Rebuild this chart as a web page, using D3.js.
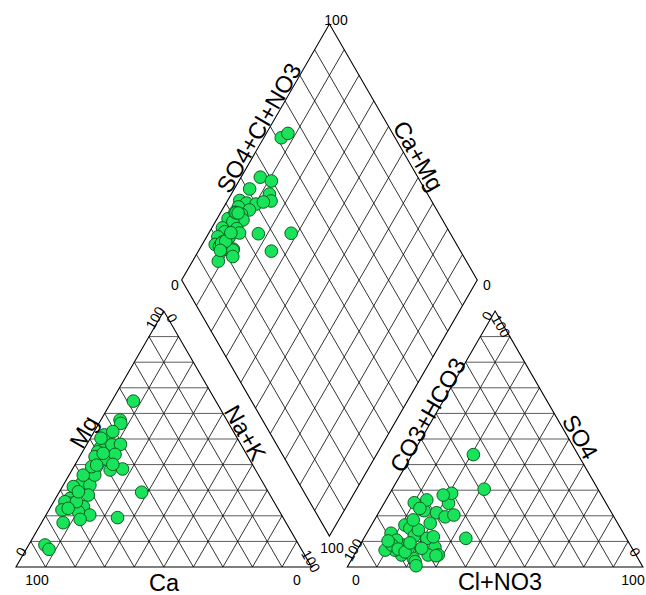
<!DOCTYPE html>
<html>
<head>
<meta charset="utf-8">
<script src="https://cdn.jsdelivr.net/npm/d3@7"></script>
<style>
  html, body { margin: 0; padding: 0; background: #fff; }
  svg { display: block; font-family: "Liberation Sans", Arial, sans-serif; }
</style>
</head>
<body>
<svg id="chart" width="646" height="595"></svg>
<script>
// Cation composition of each sample, % of total cations (meq/L)
const ca  = [61.4, 27.9, 36.1, 65.4, 48.4, 49.2, 64.9, 44.3, 57.8, 68.1, 69.0, 68.3, 48.6, 36.5,
             42.9, 85.9, 59.0, 64.9, 69.2, 46.1, 43.7, 61.5, 44.8, 49.9, 70.7, 66.8, 40.7, 64.2,
             73.3, 85.4, 44.5, 47.2, 55.4, 56.0, 59.3, 51.7, 54.8, 70.9, 40.8, 48.3, 75.4, 52.8];
const mg  = [32.7, 64.8, 57.4, 23.6, 46.4, 37.9, 20.3, 51.6, 35.3, 21.6, 18.6, 26.8, 42.2, 56.1,
             29.2,  8.6, 32.0, 31.4, 24.9, 50.3, 47.7, 28.1, 38.3, 45.0, 25.5, 25.5, 47.9, 29.4,
             22.3,  6.9, 44.0, 40.1, 35.9, 19.3, 35.9, 43.1, 39.2, 22.9, 52.9, 44.4, 17.3, 39.8];
const naK = [ 5.9,  7.3,  6.5, 11.0,  5.2, 12.9, 14.8,  4.1,  6.9, 10.3, 12.4,  4.9,  9.2,  7.4,
             27.9,  5.5,  9.0,  3.7,  5.9,  3.6,  8.6, 10.4, 16.9,  5.1,  3.8,  7.7, 11.4,  6.4,
              4.4,  7.7, 11.5, 12.7,  8.7, 24.7,  4.8,  5.2,  6.0,  6.2,  6.3,  7.3,  7.3,  7.4];

// Anion composition of each sample, % of total anions (meq/L)
const hco3  = [38.5, 35.4, 53.3, 50.3, 59.2, 53.5, 54.3, 64.8, 63.0, 60.0, 57.1, 66.5, 63.4, 66.9,
               53.8, 70.3, 67.5, 72.3, 71.3, 76.0, 71.3, 71.2, 65.0, 76.0, 79.3, 75.7, 76.5, 78.6,
               81.7, 80.6, 76.8, 78.1, 83.9, 64.0, 68.7, 68.5, 67.8, 80.6, 79.3, 77.5, 81.1, 74.1];
const so4   = [30.4, 43.9, 24.9, 28.8, 21.2, 28.1, 11.2, 25.1, 22.0, 26.2, 19.6,  7.7, 17.1,  4.7,
               20.3,  4.7, 11.2, 16.4, 15.1,  3.4, 12.1,  7.3, 11.8,  2.1,  4.7,  7.3,  0.5, 13.2,
                7.9,  6.6,  8.6, 10.5,  6.6, 22.9, 14.5, 18.4,  4.4,  8.6,  7.0,  5.9, 10.2,  9.4];
const clNo3 = [31.1, 20.7, 21.8, 20.9, 19.6, 18.4, 34.5, 10.1, 15.0, 13.8, 23.3, 25.8, 19.5, 28.4,
               25.9, 25.0, 21.3, 11.3, 13.6, 20.6, 16.6, 21.5, 23.2, 21.9, 16.0, 17.0, 23.0,  8.2,
               10.4, 12.8, 14.6, 11.4,  9.5, 13.1, 16.8, 13.1, 27.8, 10.8, 13.7, 16.6,  8.7, 16.5];

// Grid steps along every axis
const gridSteps = d3.range(10, 100, 10);

// ---- layout ----
const side = 295.6;                 // edge length of each triangle
const gap = 35.7;                   // gap between the two triangles
const x0 = 16, base = 567;
const h = side * Math.sqrt(3) / 2;
const leftX = x0;
const rightX = x0 + side + gap;
const bx = x0 + side + gap / 2;     // bottom vertex of the diamond
const by = base - gap * Math.sqrt(3) / 2;

// percentage -> length along an edge, and -> height
const along = d3.scaleLinear().domain([0, 100]).range([0, side]);
const up = d3.scaleLinear().domain([0, 100]).range([0, h]);

// ternary position inside a triangle: p = share of the bottom-right corner, q = share of the apex
const tri = (ox, p, q) => [ox + along(p + q / 2), base - up(q)];
// diamond position: a = SO4+Cl+NO3, c = Ca+Mg
const dia = (a, c) => [bx + along(a - c) / 2, by - up(a + c)];

const svg = d3.select("#chart");
const line = d3.line();
const gGrid = svg.append("g").attr("fill", "none").attr("stroke", "#000");

function drawTriangleGrid(ox) {
  gridSteps.forEach(t => {
    // constant apex share
    gGrid.append("path").attr("d", line([tri(ox, 0, t), tri(ox, 100 - t, t)])).attr("stroke-width", 0.8).attr("stroke", "#333");
    // constant bottom-right share
    gGrid.append("path").attr("d", line([tri(ox, t, 0), tri(ox, t, 100 - t)])).attr("stroke-width", 0.8);
    // constant bottom-left share
    gGrid.append("path").attr("d", line([tri(ox, 100 - t, 0), tri(ox, 0, 100 - t)])).attr("stroke-width", 0.8);
  });
  gGrid.append("path")
    .attr("d", line([tri(ox, 0, 0), tri(ox, 100, 0), tri(ox, 0, 100)]) + "Z")
    .attr("stroke-width", 1.1);
}
drawTriangleGrid(leftX);
drawTriangleGrid(rightX);

gridSteps.forEach(t => {
  gGrid.append("path").attr("d", line([dia(t, 0), dia(t, 100)])).attr("stroke-width", 0.8);
  gGrid.append("path").attr("d", line([dia(0, t), dia(100, t)])).attr("stroke-width", 0.8);
});
gGrid.append("path")
  .attr("d", line([dia(0, 0), dia(100, 0), dia(100, 100), dia(0, 100)]) + "Z")
  .attr("stroke-width", 1.1);

// ---- samples ----
const idx = d3.range(ca.length);
const pts = [
  ...idx.map(i => dia(100 - hco3[i], 100 - naK[i])),
  ...idx.map(i => tri(leftX, naK[i], mg[i])),
  ...idx.map(i => tri(rightX, clNo3[i], so4[i]))
];
svg.append("g")
  .selectAll("circle")
  .data(pts)
  .join("circle")
  .attr("cx", d => d[0])
  .attr("cy", d => d[1])
  .attr("r", 6.3)
  .attr("fill", "#18e35a")
  .attr("stroke", "#0b6020")
  .attr("stroke-width", 1);

// ---- text ----
const tickText = [
  { t: "100", x: 336, y: 20,  r: 0 },
  { t: "0",   x: 175, y: 285, r: 0 },
  { t: "0",   x: 487, y: 285, r: 0 },
  { t: "100", x: 332, y: 548, r: 0 },
  { t: "100", x: 37,  y: 580, r: 0 },
  { t: "0",   x: 297, y: 580, r: 0 },
  { t: "0",   x: 21,  y: 552, r: -60 },
  { t: "100", x: 311, y: 561, r: 60 },
  { t: "100", x: 155, y: 318, r: -60 },
  { t: "0",   x: 172, y: 318, r: 60 },
  { t: "100", x: 353, y: 550, r: -60 },
  { t: "0",   x: 356, y: 580, r: 0 },
  { t: "100", x: 633, y: 580, r: 0 },
  { t: "0",   x: 635, y: 552, r: 60 },
  { t: "0",   x: 487, y: 316, r: -60 },
  { t: "100", x: 501, y: 326, r: 60 }
];
const axisText = [
  { t: "Mg",         x: 84,  y: 432, r: -60 },
  { t: "Na+K",       x: 245, y: 433, r: 60 },
  { t: "Ca",         x: 164, y: 583, r: 0 },
  { t: "CO3+HCO3",   x: 428, y: 415, r: -60 },
  { t: "SO4",        x: 580, y: 437, r: 60 },
  { t: "Cl+NO3",     x: 500, y: 582, r: 0 },
  { t: "SO4+Cl+NO3", x: 259, y: 128, r: -60 },
  { t: "Ca+Mg",      x: 418, y: 156, r: 60 }
];

function drawText(list, size) {
  svg.append("g")
    .selectAll("text")
    .data(list)
    .join("text")
    .attr("transform", d => `translate(${d.x},${d.y}) rotate(${d.r})`)
    .attr("text-anchor", "middle")
    .attr("dominant-baseline", "central")
    .attr("font-size", size)
    .attr("fill", "#000")
    .text(d => d.t);
}
drawText(tickText, 14);
drawText(axisText, 23.5);
</script>
</body>
</html>
